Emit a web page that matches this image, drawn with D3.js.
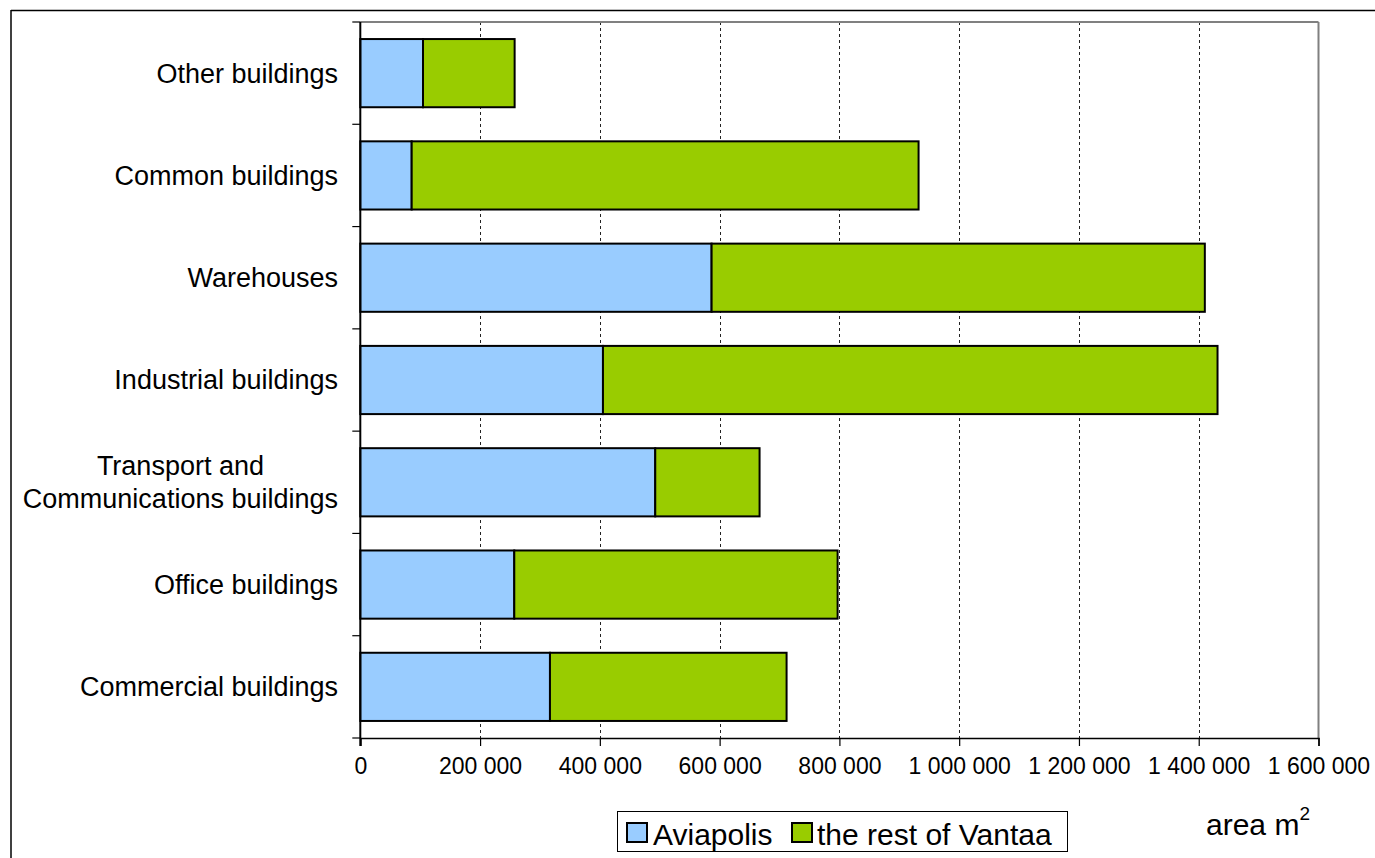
<!DOCTYPE html>
<html>
<head>
<meta charset="utf-8">
<script src="https://cdn.jsdelivr.net/npm/d3@7"></script>
<style>
  html, body { margin: 0; padding: 0; background: #fff; }
  svg { display: block; font-family: "Liberation Sans", Arial, sans-serif; }
</style>
</head>
<body>
<svg id="chart" width="1375" height="858"></svg>
<script>
// ---- data ----
const categories = [
  "Other buildings",
  "Common buildings",
  "Warehouses",
  "Industrial buildings",
  "Transport and|Communications buildings",
  "Office buildings",
  "Commercial buildings"
];
const aviapolis   = [104700,  85800, 586600, 405200, 492500, 257100, 316700];
const restVantaa  = [153000, 846400, 823600, 1026200, 174200, 539900, 395100];
const seriesNames = ["Aviapolis", "the rest of Vantaa"];
const seriesColors = ["#99CCFF", "#99CC00"];
const xTicks = [0, 200000, 400000, 600000, 800000, 1000000, 1200000, 1400000, 1600000];

// ---- layout ----
const svg = d3.select("#chart");
const plot = { left: 360.3, right: 1318.5, top: 22, bottom: 738 };

const x = d3.scaleLinear().domain([0, 1600000]).range([plot.left, plot.right]);
const y = d3.scaleBand().domain(categories).range([plot.top, plot.bottom])
  .paddingInner(1/3).paddingOuter(1/6);
const yOuter = d3.scaleBand().domain(categories).range([plot.top, plot.bottom]);

// outer chart border (top and left)
svg.append("line").attr("x1", 11).attr("x2", 1375).attr("y1", 10.5).attr("y2", 10.5)
  .attr("stroke", "#000").attr("stroke-width", 1.5);
svg.append("line").attr("x1", 11).attr("x2", 11).attr("y1", 10).attr("y2", 858)
  .attr("stroke", "#000").attr("stroke-width", 1.5);

// gridlines
svg.append("g").selectAll("line").data(xTicks.filter(d => d > 0 && d < 1600000)).join("line")
  .attr("x1", d => Math.round(x(d)) + 0.5).attr("x2", d => Math.round(x(d)) + 0.5)
  .attr("y1", plot.top).attr("y2", plot.bottom)
  .attr("stroke", "#222").attr("stroke-width", 1).attr("stroke-dasharray", "3,3");

// plot area border (top & right) gray
svg.append("line").attr("x1", plot.left).attr("x2", plot.right).attr("y1", plot.top).attr("y2", plot.top)
  .attr("stroke", "#808080").attr("stroke-width", 2);
svg.append("line").attr("x1", plot.right).attr("x2", plot.right).attr("y1", plot.top).attr("y2", plot.bottom)
  .attr("stroke", "#808080").attr("stroke-width", 2);

// bars
const stackData = categories.map((c, i) => ({ cat: c, a: aviapolis[i], r: restVantaa[i] }));
const stack = d3.stack().keys(["a", "r"])(stackData);
svg.append("g").selectAll("g").data(stack).join("g")
  .attr("fill", (d, i) => seriesColors[i])
  .selectAll("rect").data(d => d).join("rect")
  .attr("x", d => x(d[0]))
  .attr("width", d => x(d[1]) - x(d[0]))
  .attr("y", d => y(d.data.cat))
  .attr("height", y.bandwidth())
  .attr("stroke", "#000").attr("stroke-width", 2);

// x axis
const xAxis = d3.axisBottom(x).tickValues(xTicks)
  .tickFormat(d => d3.format(",")(d).replace(/,/g, " "))
  .tickSize(8).tickPadding(12);
const gx = svg.append("g").attr("transform", `translate(0,${plot.bottom})`).call(xAxis);
gx.select(".domain").attr("stroke", "#000").attr("stroke-width", 1.5);
gx.selectAll(".tick line").attr("stroke", "#000").attr("stroke-width", 1.2);
gx.selectAll(".tick text").attr("font-size", "23px").attr("fill", "#000")
  .attr("font-family", "Liberation Sans, Arial, sans-serif");

// y axis (ticks at category boundaries)
const gy = svg.append("g");
gy.append("line").attr("x1", plot.left).attr("x2", plot.left).attr("y1", plot.top).attr("y2", plot.bottom + 8)
  .attr("stroke", "#000").attr("stroke-width", 2);
const boundaries = categories.map(c => yOuter(c)).concat([plot.bottom]);
gy.selectAll("line.tk").data(boundaries).join("line").attr("class", "tk")
  .attr("x1", plot.left - 8).attr("x2", plot.left)
  .attr("y1", d => d).attr("y2", d => d)
  .attr("stroke", "#000").attr("stroke-width", 1.2);

// category labels
const labels = svg.append("g").attr("font-size", "27px").attr("fill", "#000");
categories.forEach(c => {
  const lines = c.split("|");
  const cy = y(c) + y.bandwidth() / 2;
  const t = labels.append("text").attr("text-anchor", "middle");
  const lh = 33;
  lines.forEach((ln, j) => {
    t.append("tspan").attr("x", 0)
      .attr("y", cy + (j - (lines.length - 1) / 2) * lh)
      .attr("dy", "0.35em").text(ln);
  });
  const w = d3.max(t.selectAll("tspan").nodes(), n => n.getComputedTextLength());
  t.selectAll("tspan").attr("x", 338 - w / 2);
});

// legend
const lg = svg.append("g");
lg.append("rect").attr("x", 617.5).attr("y", 811.5).attr("width", 450).attr("height", 40)
  .attr("fill", "#fff").attr("stroke", "#000").attr("stroke-width", 1);
const legendItems = [
  { name: seriesNames[0], color: seriesColors[0], sx: 627, tx: 653 },
  { name: seriesNames[1], color: seriesColors[1], sx: 792, tx: 817 }
];
legendItems.forEach(it => {
  lg.append("rect").attr("x", it.sx).attr("y", 823).attr("width", 20).attr("height", 19)
    .attr("fill", it.color).attr("stroke", "#000").attr("stroke-width", 2);
  lg.append("text").attr("x", it.tx).attr("y", 845).attr("font-size", "30px").attr("fill", "#000").text(it.name);
});

// axis title
const at = svg.append("text").attr("x", 1206).attr("y", 835).attr("font-size", "30px").attr("fill", "#000");
at.append("tspan").text("area m");
at.append("tspan").attr("font-size", "19px").attr("dy", "-15").text("2");
</script>
</body>
</html>
